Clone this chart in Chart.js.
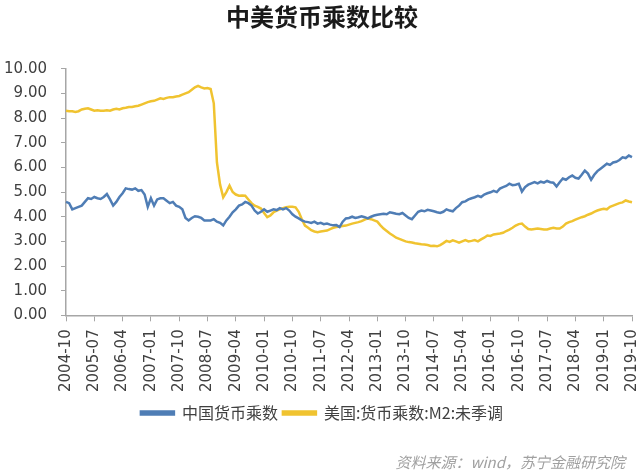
<!DOCTYPE html>
<html>
<head>
<meta charset="utf-8">
<script src="https://cdn.jsdelivr.net/npm/chart.js@4"></script>
<style>
	html, body { margin: 0; padding: 0; background: #fff; }
	#wrap { width: 644px; height: 476px; }
</style>
</head>
<body>
<div id="wrap"><canvas id="chart"></canvas></div>
<script>
// monthly, 2004-10 .. 2019-10
const startYear = 2004;
const startMonth = 10;
const monthCount = 181;
const tickEvery = 9;

const months = [];
for (let i = 0; i < monthCount; i++) {
	const m = startMonth - 1 + i;
	const y = startYear + Math.floor(m / 12);
	const mm = (m % 12) + 1;
	months.push(y + '-' + (mm < 10 ? '0' + mm : mm));
}

const chinaMultiplier = [
	4.60, 4.55, 4.30, 4.35, 4.40, 4.45, 4.60, 4.75, 4.72, 4.80,
	4.75, 4.72, 4.80, 4.92, 4.70, 4.45, 4.60, 4.80, 4.95, 5.15,
	5.12, 5.10, 5.15, 5.05, 5.08, 4.90, 4.40, 4.75, 4.45, 4.70,
	4.75, 4.75, 4.65, 4.55, 4.60, 4.45, 4.40, 4.30, 3.95, 3.85,
	3.95, 4.02, 4.00, 3.95, 3.85, 3.85, 3.85, 3.90, 3.80, 3.75,
	3.65, 3.85, 4.00, 4.18, 4.30, 4.45, 4.50, 4.60, 4.55, 4.45,
	4.25, 4.13, 4.20, 4.30, 4.20, 4.25, 4.30, 4.27, 4.35, 4.30,
	4.35, 4.25, 4.10, 4.00, 3.93, 3.85, 3.80, 3.78, 3.75, 3.80,
	3.72, 3.75, 3.70, 3.72, 3.68, 3.65, 3.66, 3.58, 3.80, 3.93,
	3.95, 4.00, 3.95, 3.98, 4.02, 3.98, 3.93, 4.00, 4.05, 4.08,
	4.10, 4.12, 4.10, 4.18, 4.15, 4.12, 4.10, 4.15, 4.05, 3.95,
	3.90, 4.05, 4.20, 4.25, 4.22, 4.28, 4.25, 4.22, 4.18, 4.15,
	4.20, 4.30, 4.25, 4.22, 4.35, 4.45, 4.59, 4.62, 4.70, 4.75,
	4.79, 4.85, 4.80, 4.90, 4.95, 4.99, 5.05, 5.00, 5.14, 5.20,
	5.25, 5.34, 5.28, 5.30, 5.34, 5.02, 5.20, 5.30, 5.35, 5.40,
	5.35, 5.42, 5.38, 5.45, 5.40, 5.38, 5.23, 5.40, 5.55, 5.50,
	5.60, 5.67, 5.58, 5.55, 5.70, 5.87, 5.75, 5.50, 5.70, 5.85,
	5.95, 6.05, 6.15, 6.10, 6.20, 6.23, 6.30, 6.41, 6.38, 6.48,
	6.42
];

const usMultiplier = [
	8.30, 8.28, 8.28, 8.25, 8.28, 8.35, 8.38, 8.40, 8.35, 8.30,
	8.32, 8.30, 8.30, 8.32, 8.30, 8.35, 8.38, 8.35, 8.40, 8.42,
	8.45, 8.45, 8.48, 8.50, 8.55, 8.60, 8.65, 8.68, 8.70, 8.75,
	8.80, 8.78, 8.82, 8.85, 8.85, 8.88, 8.90, 8.95, 9.00, 9.05,
	9.15, 9.25, 9.31, 9.25, 9.20, 9.22, 9.18, 8.60, 6.20, 5.30,
	4.79, 5.00, 5.26, 5.00, 4.90, 4.85, 4.86, 4.85, 4.70, 4.55,
	4.45, 4.40, 4.33, 4.15, 3.98, 4.05, 4.18, 4.25, 4.30, 4.35,
	4.38, 4.40, 4.40, 4.38, 4.20, 3.90, 3.64, 3.55, 3.45, 3.40,
	3.37, 3.40, 3.42, 3.44, 3.50, 3.55, 3.58, 3.60, 3.62, 3.64,
	3.68, 3.72, 3.75, 3.78, 3.82, 3.88, 3.93, 3.90, 3.85, 3.80,
	3.65, 3.52, 3.42, 3.32, 3.24, 3.15, 3.10, 3.05, 3.00, 2.97,
	2.95, 2.92, 2.90, 2.88, 2.87, 2.85, 2.81, 2.82, 2.80, 2.85,
	2.93, 3.02, 2.98, 3.04, 3.00, 2.95, 3.00, 3.05, 3.00, 3.02,
	3.05, 3.00, 3.08, 3.15, 3.24, 3.22, 3.28, 3.30, 3.32, 3.35,
	3.42, 3.48, 3.55, 3.64, 3.70, 3.72, 3.60, 3.50, 3.48, 3.50,
	3.52, 3.50, 3.48, 3.48, 3.52, 3.55, 3.52, 3.52, 3.60, 3.72,
	3.78, 3.82, 3.88, 3.93, 3.98, 4.02, 4.08, 4.13, 4.20, 4.25,
	4.29, 4.32, 4.30, 4.40, 4.45, 4.50, 4.55, 4.58, 4.66, 4.62,
	4.59
];

const seriesNames = ['中国货币乘数', '美国:货币乘数:M2:未季调'];
const seriesColors = ['#4f7db5', '#f0c330'];
const sourceNote = '资料来源：wind，苏宁金融研究院';

const axisColor = '#a6a6a6';
const textColor = '#404040';
const tickFont = { family: '"DejaVu Sans", sans-serif', size: 15 };

// source line, bottom right under the legend
const sourcePlugin = {
	id: 'sourceNote',
	afterDraw(chart) {
		const ctx = chart.ctx;
		ctx.save();
		ctx.font = 'italic 15px "Noto Sans CJK SC", sans-serif';
		ctx.fillStyle = '#a0a0a0';
		ctx.textAlign = 'right';
		ctx.textBaseline = 'middle';
		ctx.fillText(sourceNote, 625, 462);
		ctx.restore();
	}
};

new Chart(document.getElementById('chart'), {
	type: 'line',
	data: {
		labels: months,
		datasets: [{
			label: seriesNames[0],
			data: chinaMultiplier,
			borderColor: seriesColors[0],
			backgroundColor: seriesColors[0],
			borderWidth: 2.5,
			pointRadius: 0,
			tension: 0
		}, {
			label: seriesNames[1],
			data: usMultiplier,
			borderColor: seriesColors[1],
			backgroundColor: seriesColors[1],
			borderWidth: 2.5,
			pointRadius: 0,
			tension: 0
		}]
	},
	plugins: [sourcePlugin],
	options: {
		responsive: true,
		maintainAspectRatio: false,
		animation: false,
		layout: {
			padding: { left: 0, right: 0, top: 0, bottom: 45 }
		},
		plugins: {
			title: {
				display: true,
				text: '中美货币乘数比较',
				color: '#1a1a1a',
				font: { family: '"Noto Sans CJK SC", sans-serif', size: 24, weight: 'bold' },
				padding: { top: 2, bottom: 38 }
			},
			legend: {
				position: 'bottom',
				labels: {
					boxWidth: 33,
					boxHeight: 3,
					padding: 5,
					color: textColor,
					font: { family: '"Noto Sans CJK SC", sans-serif', size: 16 }
				}
			},
			tooltip: { enabled: false }
		},
		scales: {
			x: {
				offset: false,
				border: { color: axisColor, width: 1.5 },
				grid: {
					drawOnChartArea: false,
					drawTicks: true,
					tickLength: 6,
					color: axisColor
				},
				afterFit: function (axis) {
					// let the last rotated label sit close to the right edge
					axis.paddingRight = 12;
				},
				ticks: {
					autoSkip: false,
					maxRotation: 90,
					minRotation: 90,
					padding: 8,
					color: textColor,
					font: tickFont,
					callback: function (value, index) {
						return index % tickEvery === 0 ? months[index] : null;
					}
				}
			},
			y: {
				min: 0,
				max: 10,
				border: { color: axisColor, width: 1.5 },
				grid: {
					drawOnChartArea: false,
					drawTicks: true,
					tickLength: 5,
					color: axisColor
				},
				afterFit: function (axis) {
					axis.width = 66;
				},
				ticks: {
					stepSize: 1,
					padding: 14,
					color: textColor,
					font: tickFont,
					callback: function (value) {
						return value.toFixed(2);
					}
				}
			}
		}
	}
});
</script>
</body>
</html>
